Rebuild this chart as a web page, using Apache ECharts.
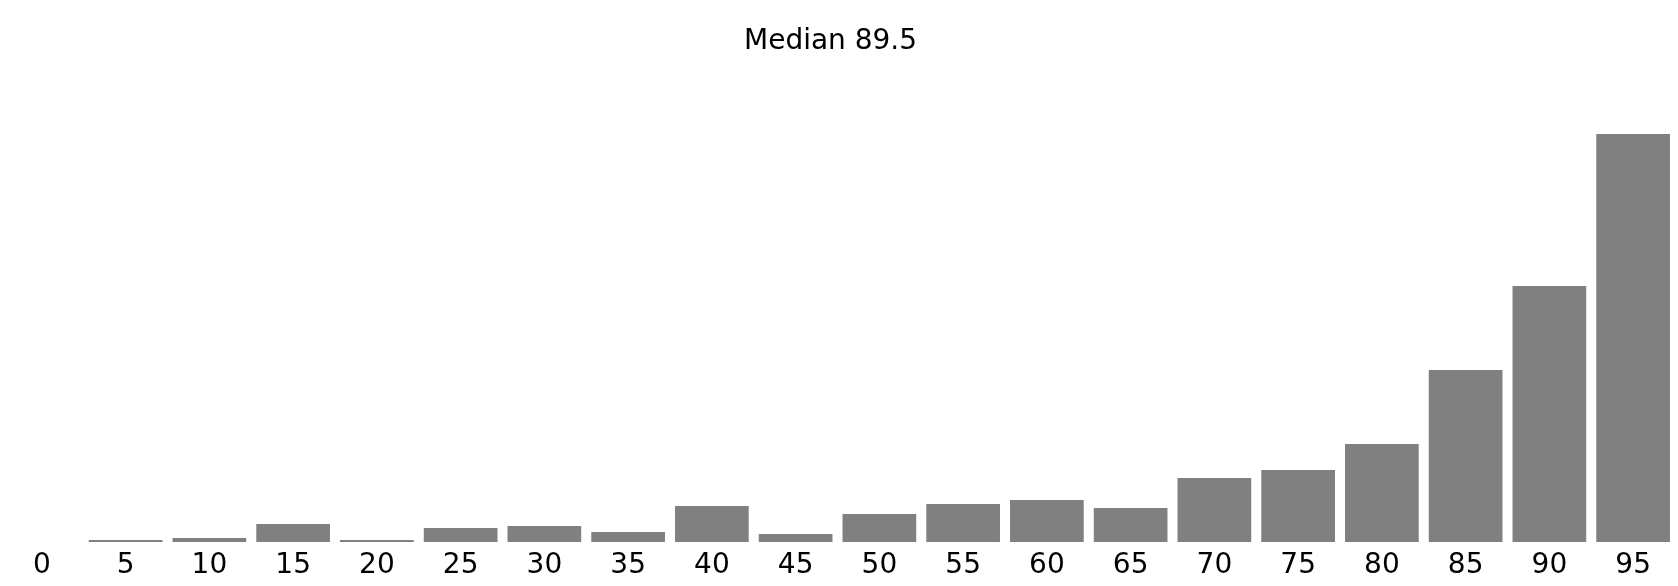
<!DOCTYPE html>
<html>
<head>
<meta charset="utf-8">
<script src="https://cdn.jsdelivr.net/npm/echarts@6/dist/echarts.min.js"></script>
<style>
	html, body { margin: 0; padding: 0; background: #fff; }
	#hist { width: 1678px; height: 586px; }
</style>
</head>
<body>
<div id="hist"></div>
<script>
var binLabels = ['0', '5', '10', '15', '20', '25', '30', '35', '40', '45',
	'50', '55', '60', '65', '70', '75', '80', '85', '90', '95'];
var binCounts = [0, 1, 2, 9, 1, 7, 8, 5, 18, 4,
	14, 19, 21, 17, 32, 36, 49, 86, 128, 204];
var medianText = 'Median 89.5';

function histogram() {

	var chart = echarts.init(document.getElementById('hist'));
	var option = {
		animation: false,
		title: {
			text: medianText,
			left: 739,
			top: 23,
			textStyle: {
				fontFamily: 'DejaVu Sans',
				fontSize: 28,
				fontWeight: 'normal',
				color: '#000'
			}
		},
		grid: {
			left: -4,
			right: 3,
			top: 102,
			bottom: 44
		},
		xAxis: {
			type: 'category',
			data: binLabels,
			axisLine: { show: false },
			axisTick: { show: false },
			axisLabel: {
				interval: 0,
				margin: 10,
				fontFamily: 'DejaVu Sans',
				fontSize: 28,
				color: '#000'
			}
		},
		yAxis: {
			type: 'value',
			min: 0,
			max: 220,
			show: false,
			splitLine: { show: false }
		},
		series: [{
			type: 'bar',
			data: binCounts,
			barCategoryGap: '12%',
			itemStyle: {
				color: '#808080'
			}
		}]
	};

	chart.setOption(option);
}

histogram();
</script>
</body>
</html>
